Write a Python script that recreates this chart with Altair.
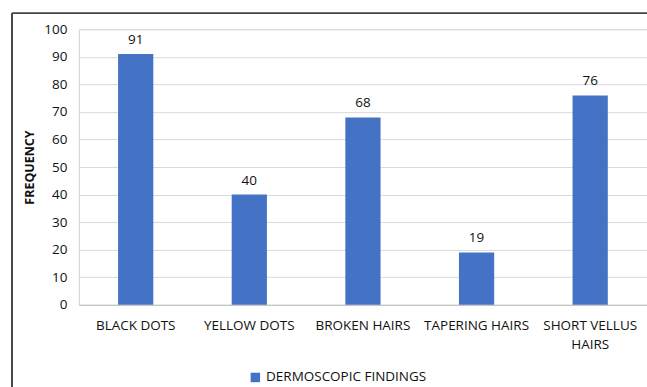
import altair as alt
import pandas as pd

categories = ["BLACK DOTS", "YELLOW DOTS", "BROKEN HAIRS", "TAPERING HAIRS", "SHORT VELLUS HAIRS"]
values = [91, 40, 68, 19, 76]
series = "DERMOSCOPIC FINDINGS"
y_ticks = [0, 10, 20, 30, 40, 50, 60, 70, 80, 90, 100]

df = pd.DataFrame({"finding": categories, "frequency": values, "series": [series] * len(categories)})

FONT = "Open Sans"
BLUE = "#4472C4"

x_enc = alt.X(
    "finding:N", sort=categories, title=None,
    scale=alt.Scale(paddingInner=0.69, paddingOuter=0.345),
    axis=alt.Axis(
        labelAngle=0, labelFontSize=13.5, labelColor="#111111", labelFont=FONT,
        labelPadding=14, ticks=False, domainColor="#bfbfbf", labelLimit=200,
        labelExpr="datum.label == 'SHORT VELLUS HAIRS' ? ['SHORT VELLUS', 'HAIRS'] : datum.label",
        labelLineHeight=19,
    ),
)
y_enc = alt.Y(
    "frequency:Q", title="FREQUENCY",
    scale=alt.Scale(domain=[0, 100]),
    axis=alt.Axis(
        values=y_ticks, labelOverlap=False, labelFontSize=13.5,
        labelColor="#111111", labelFont=FONT,
        labelPadding=12, ticks=False, domain=True, domainColor="#d9d9d9",
        grid=True, gridColor="#d9d9d9", gridWidth=1, titleFont=FONT, titleFontSize=12.5,
        titleFontWeight="bold", titleColor="#111111", titlePadding=7,
    ),
)

bars = alt.Chart(df).mark_bar(color=BLUE).encode(
    x=x_enc, y=y_enc,
    color=alt.Color("series:N", scale=alt.Scale(range=[BLUE]), title=None,
                    legend=alt.Legend(orient="none", legendX=170, legendY=342, symbolType="square",
                                      symbolSize=90, labelFont=FONT, labelFontSize=13.5,
                                      labelLimit=400, labelColor="#111111", symbolStrokeWidth=0)),
)
labels = alt.Chart(df).mark_text(dy=-14, fontSize=13.5, font=FONT, color="#111111").encode(
    x=x_enc, y=y_enc, text="frequency:Q"
)
border = alt.Chart(df).mark_rect(fill=None, stroke="#444444", strokeWidth=1).encode(
    x=alt.value(-67), x2=alt.value(700), y=alt.value(-16), y2=alt.value(500)
)

chart = alt.layer(border, bars, labels).properties(
    width=569, height=276,
    autosize=alt.AutoSizeParams(type="none"),
    padding={"left": 79, "top": 29, "right": 0, "bottom": 82},
).configure_view(stroke=None).configure(background="white")

chart.save("out.html", embed_options={"renderer": "svg", "actions": False})
